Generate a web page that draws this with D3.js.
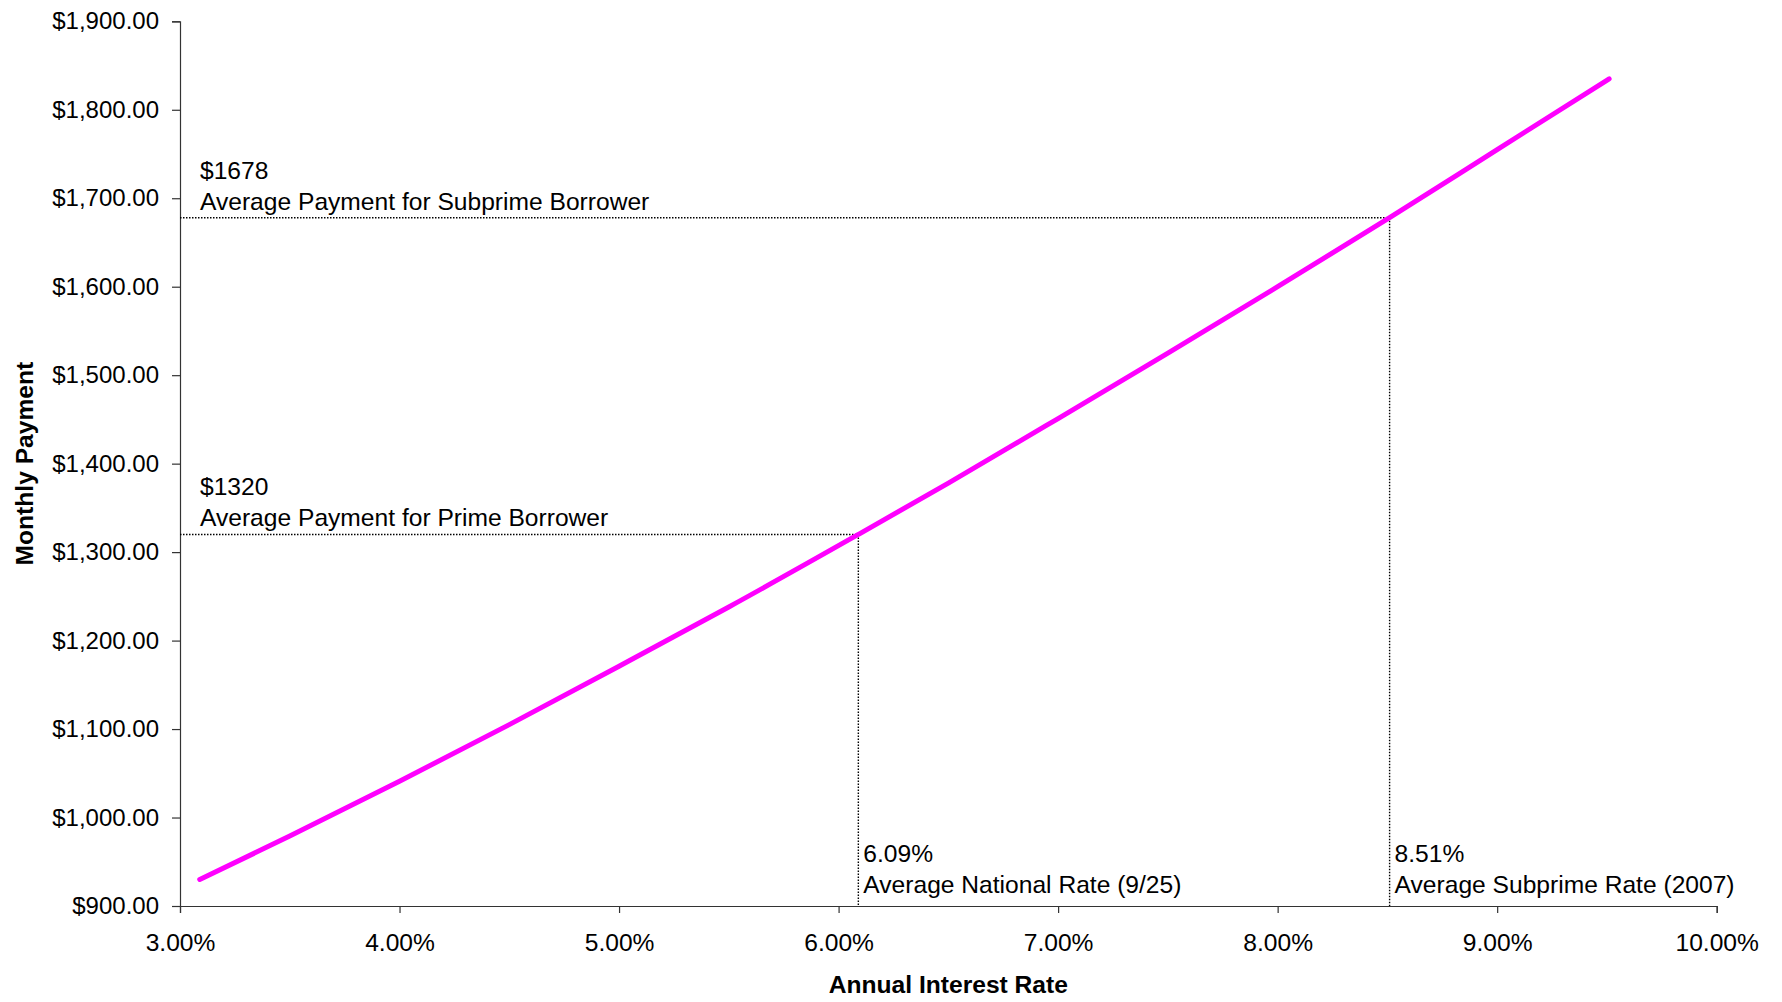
<!DOCTYPE html>
<html>
<head>
<meta charset="utf-8">
<script src="https://cdn.jsdelivr.net/npm/d3@7"></script>
<style>
  html, body { margin: 0; padding: 0; background: #ffffff; }
  svg { display: block; font-family: "Liberation Sans", Arial, Helvetica, sans-serif; }
</style>
</head>
<body>
<svg id="chart" width="1782" height="1002"></svg>
<script>
// Annual interest rate (%) and the monthly payment it gives
const rates    = [3.09, 3.5, 4.0, 4.5, 5.0, 5.5, 6.09, 6.5, 7.0, 7.5, 8.0, 8.51, 9.0, 9.51];
const payments = [930, 979, 1041, 1105, 1171, 1238, 1320, 1378, 1451, 1525, 1600, 1678, 1755, 1835];

// Axis ticks
const xTicks = [3, 4, 5, 6, 7, 8, 9, 10];
const yTicks = [900, 1000, 1100, 1200, 1300, 1400, 1500, 1600, 1700, 1800, 1900];

// Reference markers
const markerRates    = [6.09, 8.51];
const markerPayments = [1320, 1678];
const paymentTitles  = ["$1320", "$1678"];
const paymentNotes   = ["Average Payment for Prime Borrower", "Average Payment for Subprime Borrower"];
const rateTitles     = ["6.09%", "8.51%"];
const rateNotes      = ["Average National Rate (9/25)", "Average Subprime Rate (2007)"];

const svg = d3.select("#chart");
const plotLeft = 180, plotRight = 1716.7, plotTop = 21.3, plotBottom = 906;

const x = d3.scaleLinear().domain([3, 10]).range([plotLeft, plotRight]);
const y = d3.scaleLinear().domain([900, 1900]).range([plotBottom, plotTop]);

const axisColor = "#333333";
const fontSize = 24.6;

// Y axis
const yAxis = svg.append("g")
  .attr("transform", `translate(${plotLeft},0)`)
  .call(d3.axisLeft(y).tickValues(yTicks).tickSize(8).tickPadding(13)
    .tickFormat(d => "$" + d3.format(",.2f")(d)));
// X axis
const xAxis = svg.append("g")
  .attr("transform", `translate(0,${plotBottom})`)
  .call(d3.axisBottom(x).tickValues(xTicks).tickSize(7).tickPadding(21)
    .tickFormat(d => d3.format(".2f")(d) + "%"));

[yAxis, xAxis].forEach(g => {
  g.selectAll("path.domain").attr("stroke", axisColor).attr("stroke-width", 1.2);
  g.selectAll(".tick line").attr("stroke", axisColor).attr("stroke-width", 1.2);
  g.selectAll(".tick text")
    .attr("fill", "#000")
    .style("font-size", fontSize + "px")
    .style("font-family", "'Liberation Sans', Arial, sans-serif");
});
yAxis.selectAll(".tick text").style("font-size", "24px");

// Axis titles
svg.append("text")
  .attr("x", (plotLeft + plotRight) / 2)
  .attr("y", 993)
  .attr("text-anchor", "middle")
  .style("font-size", fontSize + "px")
  .style("font-weight", "bold")
  .text("Annual Interest Rate");

svg.append("text")
  .attr("transform", `translate(33,${(plotTop + plotBottom) / 2}) rotate(-90)`)
  .attr("text-anchor", "middle")
  .style("font-size", fontSize + "px")
  .style("font-weight", "bold")
  .text("Monthly Payment");

// Dotted reference lines with their labels
const refs = markerRates.map((r, i) => ({
  rate: r, pay: markerPayments[i],
  payTitle: paymentTitles[i], payNote: paymentNotes[i],
  rateTitle: rateTitles[i], rateNote: rateNotes[i]
}));

const refG = svg.append("g");
refs.forEach(d => {
  refG.append("line")
    .attr("x1", x(3)).attr("x2", x(d.rate))
    .attr("y1", y(d.pay)).attr("y2", y(d.pay))
    .attr("stroke", "#000").attr("stroke-width", 1.4)
    .attr("stroke-dasharray", "1.5,1.5");
  refG.append("line")
    .attr("x1", x(d.rate)).attr("x2", x(d.rate))
    .attr("y1", y(d.pay)).attr("y2", y(900))
    .attr("stroke", "#000").attr("stroke-width", 1.4)
    .attr("stroke-dasharray", "1.5,1.5");

  // payment labels above the horizontal line
  refG.append("text")
    .attr("x", x(3) + 20).attr("y", y(d.pay) - 39)
    .style("font-size", fontSize + "px")
    .text(d.payTitle);
  refG.append("text")
    .attr("x", x(3) + 20).attr("y", y(d.pay) - 8)
    .style("font-size", fontSize + "px")
    .text(d.payNote);

  // rate labels right of the vertical line
  refG.append("text")
    .attr("x", x(d.rate) + 5).attr("y", y(900) - 44)
    .style("font-size", fontSize + "px")
    .text(d.rateTitle);
  refG.append("text")
    .attr("x", x(d.rate) + 5).attr("y", y(900) - 13)
    .style("font-size", fontSize + "px")
    .text(d.rateNote);
});

// Payment curve
const pts = rates.map((r, i) => [r, payments[i]]);
svg.append("path")
  .datum(pts)
  .attr("fill", "none")
  .attr("stroke", "#ff00ff")
  .attr("stroke-width", 5)
  .attr("stroke-linecap", "round")
  .attr("stroke-linejoin", "round")
  .attr("d", d3.line().x(d => x(d[0])).y(d => y(d[1])).curve(d3.curveMonotoneX));
</script>
</body>
</html>
